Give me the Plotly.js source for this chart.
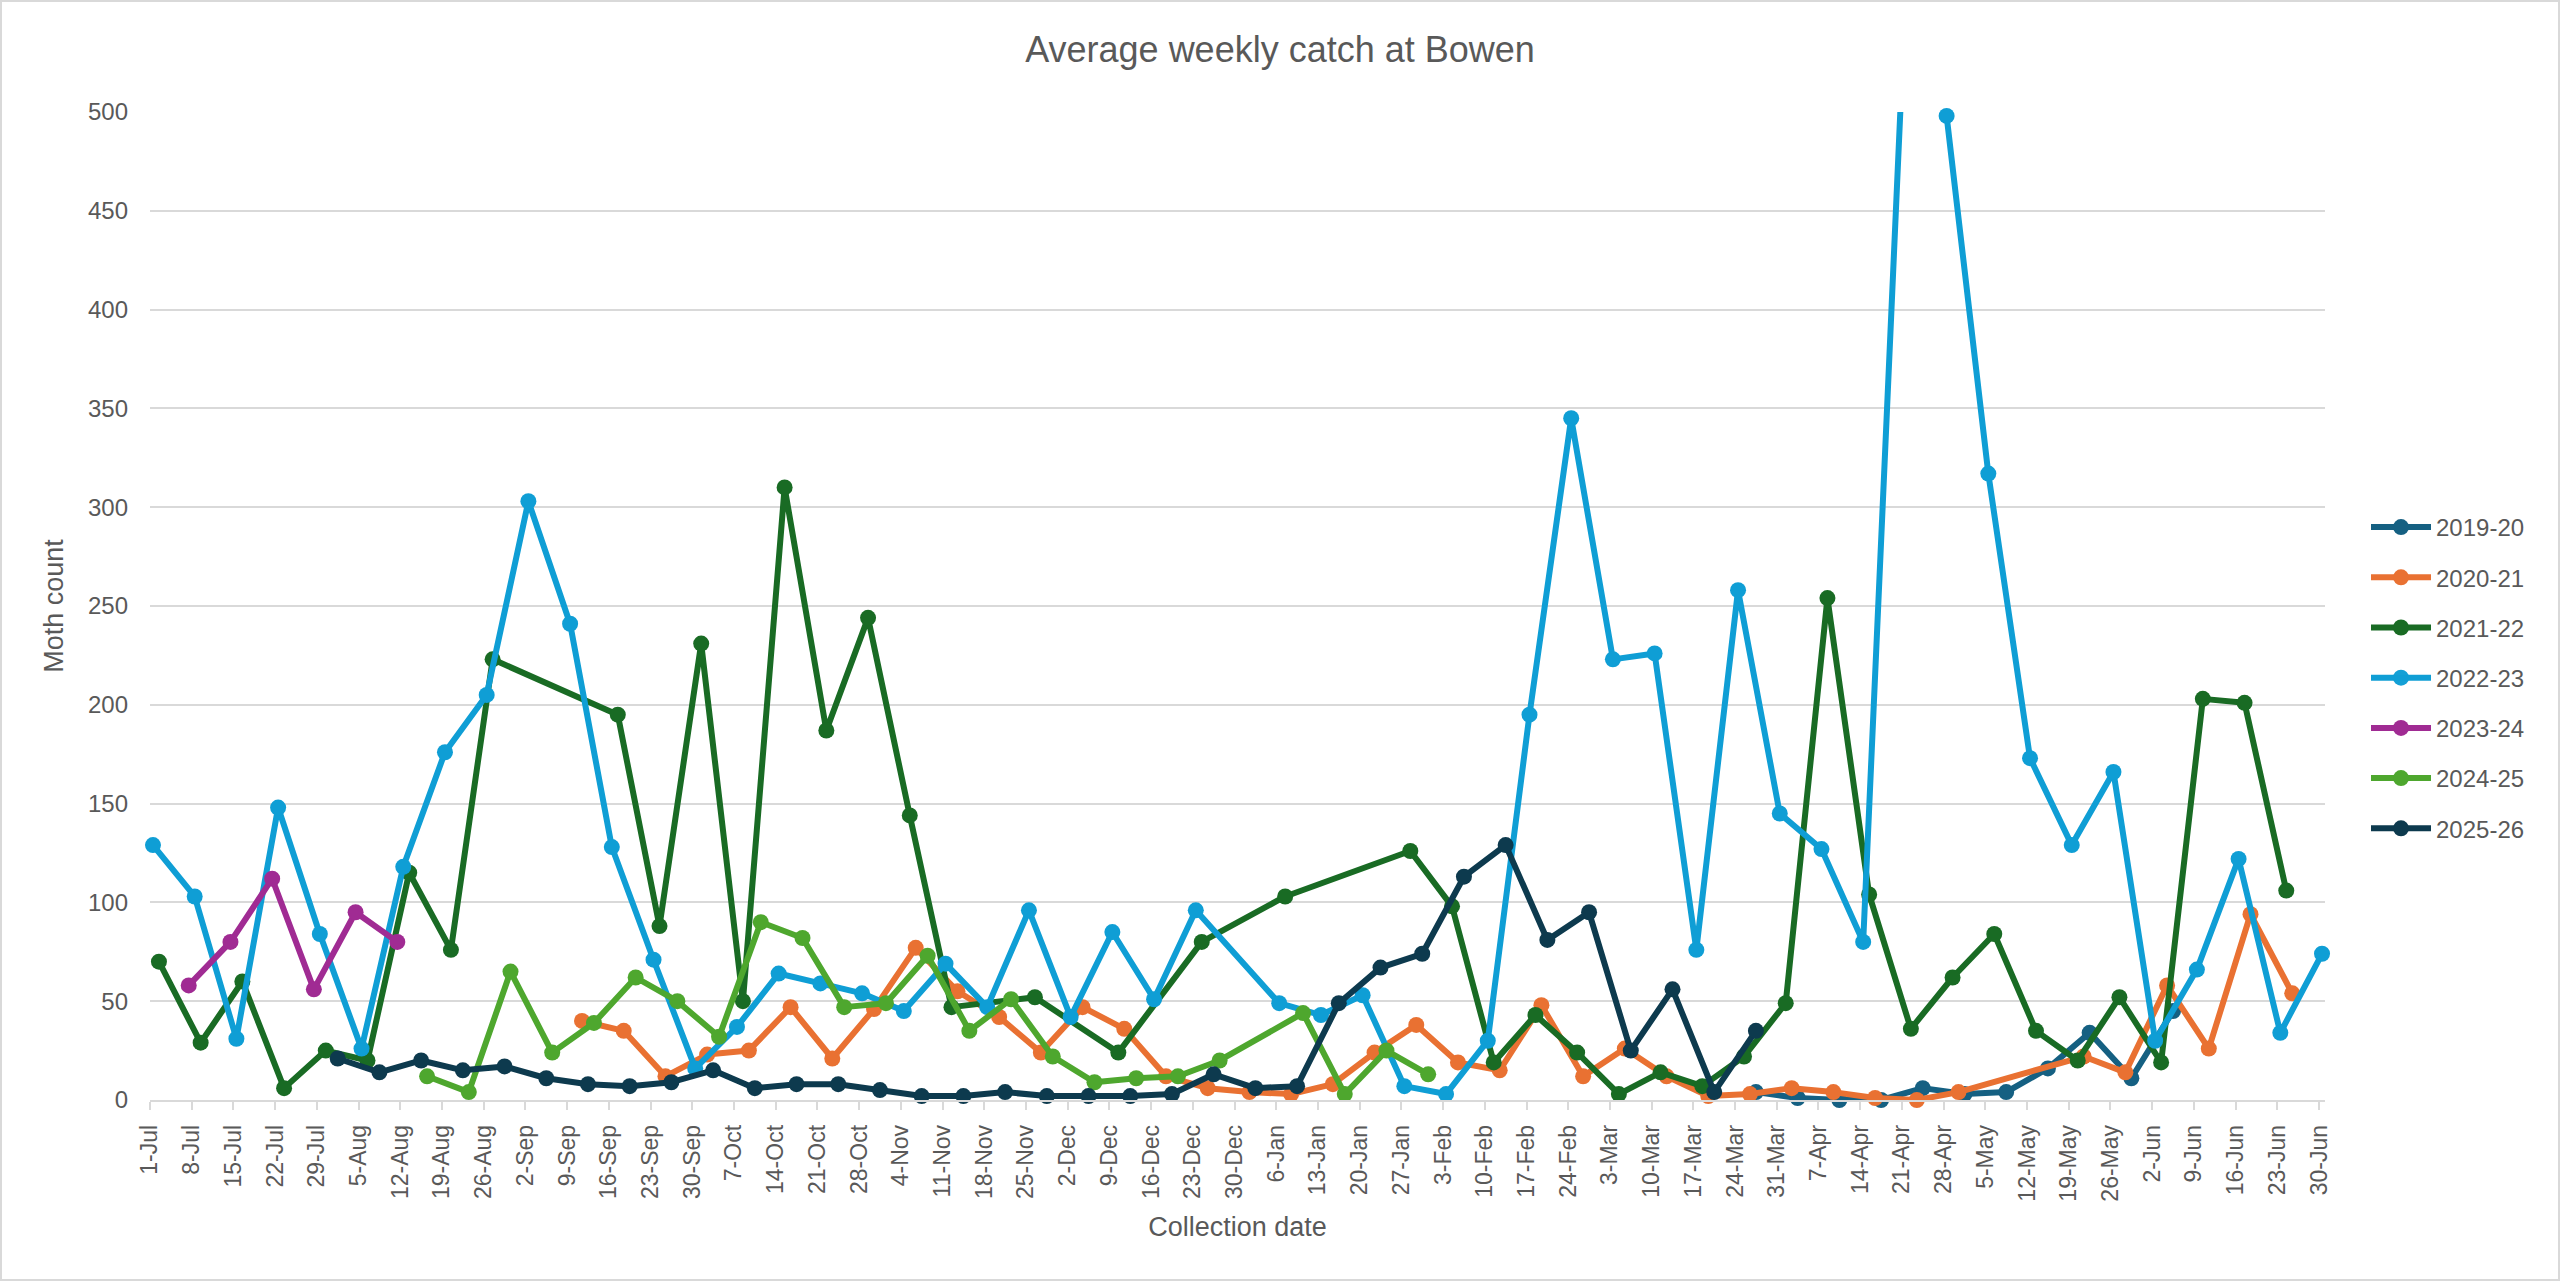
<!DOCTYPE html>
<html>
<head>
<meta charset="utf-8">
<script src="https://cdn.plot.ly/plotly-3.0.1.min.js"></script>
<style>
  html, body { margin: 0; padding: 0; background: #ffffff; }
  #chart { width: 2560px; height: 1281px; position: relative; }
  #frame { position: absolute; left: 0; top: 0; width: 2560px; height: 1281px;
           box-sizing: border-box; border: 2px solid #D9D9D9; pointer-events: none; }
  #chart .scatterlayer .js-line { stroke-linejoin: round; }
</style>
</head>
<body>
<div id="chart"></div>
<div id="frame"></div>
<script>
// ---------------- data ----------------
const seasonNames = ['2019-20', '2020-21', '2021-22', '2022-23', '2023-24', '2024-25', '2025-26'];

const dates2019 = ['27-Mar','3-Apr','10-Apr','17-Apr','24-Apr','1-May','8-May','15-May','22-May','29-May','5-Jun'];
const values2019 = [4, 1, 0, 0, 6, 3, 4, 16, 34, 11, 45];

const dates2020 = ['11-Sep','18-Sep','25-Sep','2-Oct','9-Oct','16-Oct','23-Oct','30-Oct','6-Nov','13-Nov',
  '20-Nov','27-Nov','4-Dec','11-Dec','18-Dec','25-Dec','1-Jan','8-Jan','15-Jan','22-Jan',
  '29-Jan','5-Feb','12-Feb','19-Feb','26-Feb','5-Mar','12-Mar','19-Mar','26-Mar','2-Apr',
  '9-Apr','16-Apr','23-Apr','30-Apr','21-May','28-May','4-Jun','11-Jun','18-Jun','25-Jun'];
const values2020 = [40, 35, 12, 23, 25, 47, 21, 46, 77, 55,
  42, 24, 47, 36, 12, 6, 4, 3, 8, 24,
  38, 19, 15, 48, 12, 26, 12, 2, 3, 6,
  4, 1, 0, 4, 22, 14, 58, 26, 94, 54];

const dates2021 = ['2-Jul','9-Jul','16-Jul','23-Jul','30-Jul','6-Aug','13-Aug','20-Aug','27-Aug','17-Sep',
  '24-Sep','1-Oct','8-Oct','15-Oct','22-Oct','29-Oct','5-Nov','12-Nov','26-Nov','10-Dec',
  '24-Dec','7-Jan','28-Jan','4-Feb','11-Feb','18-Feb','25-Feb','4-Mar','11-Mar','18-Mar',
  '25-Mar','1-Apr','8-Apr','15-Apr','22-Apr','29-Apr','6-May','13-May','20-May','27-May',
  '3-Jun','10-Jun','17-Jun','24-Jun'];
const values2021 = [70, 29, 60, 6, 25, 20, 115, 76, 223, 195,
  88, 231, 50, 310, 187, 244, 144, 47, 52, 24,
  80, 103, 126, 98, 19, 43, 24, 3, 14, 7,
  22, 49, 254, 104, 36, 62, 84, 35, 20, 52,
  19, 203, 201, 106];

const dates2022 = ['1-Jul','8-Jul','15-Jul','22-Jul','29-Jul','5-Aug','12-Aug','19-Aug','26-Aug','2-Sep',
  '9-Sep','16-Sep','23-Sep','30-Sep','7-Oct','14-Oct','21-Oct','28-Oct','4-Nov','11-Nov',
  '18-Nov','25-Nov','2-Dec','9-Dec','16-Dec','23-Dec','6-Jan','13-Jan','20-Jan','27-Jan',
  '3-Feb','10-Feb','17-Feb','24-Feb','3-Mar','10-Mar','17-Mar','24-Mar','31-Mar','7-Apr',
  '14-Apr','21-Apr','28-Apr','5-May','12-May','19-May','26-May','2-Jun','9-Jun','16-Jun',
  '23-Jun','30-Jun'];
const values2022 = [129, 103, 31, 148, 84, 26, 118, 176, 205, 303,
  241, 128, 71, 16, 37, 64, 59, 54, 45, 69,
  47, 96, 42, 85, 51, 96, 49, 43, 53, 7,
  3, 30, 195, 345, 223, 226, 76, 258, 145, 127,
  80, 552, 498, 317, 173, 129, 166, 30, 66, 122,
  34, 74];

const dates2023 = ['7-Jul','14-Jul','21-Jul','28-Jul','4-Aug','11-Aug'];
const values2023 = [58, 80, 112, 56, 95, 80];

const dates2024 = ['16-Aug','23-Aug','30-Aug','6-Sep','13-Sep','20-Sep','27-Sep','4-Oct','11-Oct','18-Oct',
  '25-Oct','1-Nov','8-Nov','15-Nov','22-Nov','29-Nov','6-Dec','13-Dec','20-Dec','27-Dec',
  '10-Jan','17-Jan','24-Jan','31-Jan'];
const values2024 = [12, 4, 65, 24, 39, 62, 50, 32, 90, 82,
  47, 49, 73, 35, 51, 22, 9, 11, 12, 20,
  44, 3, 25, 13];

const dates2025 = ['1-Aug','8-Aug','15-Aug','22-Aug','29-Aug','5-Sep','12-Sep','19-Sep','26-Sep','3-Oct',
  '10-Oct','17-Oct','24-Oct','31-Oct','7-Nov','14-Nov','21-Nov','28-Nov','5-Dec','12-Dec',
  '19-Dec','26-Dec','2-Jan','9-Jan','16-Jan','23-Jan','30-Jan','6-Feb','13-Feb','20-Feb',
  '27-Feb','6-Mar','13-Mar','20-Mar','27-Mar'];
const values2025 = [21, 14, 20, 15, 17, 11, 8, 7, 9, 15,
  6, 8, 8, 5, 2, 2, 4, 2, 2, 2,
  3, 13, 6, 7, 49, 67, 74, 113, 129, 81,
  95, 25, 56, 4, 35];

const seriesDates = [dates2019, dates2020, dates2021, dates2022, dates2023, dates2024, dates2025];
const seriesValues = [values2019, values2020, values2021, values2022, values2023, values2024, values2025];

// ---------------- styling ----------------
const seriesColors = ['#156082', '#E97132', '#196B24', '#0F9ED5', '#A02B93', '#4EA72E', '#0D3A4E'];
const textColor = '#595959';
const gridColor = '#D9D9D9';
const fontFamily = 'Liberation Sans, Arial, sans-serif';
const yMax = 500;

// Season runs 1-Jul .. 30-Jun; map onto one reference season (Excel date axis puts points mid-day).
const MONTHS = ['Jan','Feb','Mar','Apr','May','Jun','Jul','Aug','Sep','Oct','Nov','Dec'];
function toSeasonDate(s) {
  const parts = s.split('-');
  const day = parseInt(parts[0], 10);
  const m = MONTHS.indexOf(parts[1]) + 1;
  const yr = m >= 7 ? 2001 : 2002;
  const p = n => (n < 10 ? '0' : '') + n;
  return yr + '-' + p(m) + '-' + p(day) + ' 12:00';
}

const traces = seasonNames.map((name, i) => ({
  type: 'scatter',
  mode: 'lines+markers',
  name: name,
  legendgroup: name,
  x: seriesDates[i].map(toSeasonDate),
  y: seriesValues[i],
  line: { color: seriesColors[i], width: 6 },
  marker: {
    color: seriesColors[i],
    size: 16,
    opacity: seriesValues[i].map(v => (v > yMax ? 0 : 1))
  },
  cliponaxis: false,
  hoverinfo: 'x+y+name'
}));

const layout = {
  width: 2560,
  height: 1281,
  margin: { l: 150, r: 235, t: 112, b: 181 },
  paper_bgcolor: '#ffffff',
  plot_bgcolor: '#ffffff',
  font: { family: fontFamily, color: textColor },
  title: {
    text: 'Average weekly catch at Bowen',
    font: { size: 36, color: textColor, family: fontFamily },
    xref: 'container', x: 0.5, xanchor: 'center',
    yref: 'container', y: 1 - 49 / 1281, yanchor: 'middle'
  },
  xaxis: {
    type: 'date',
    range: ['2001-07-01', '2002-07-01'],
    tick0: '2001-07-01',
    dtick: 7 * 24 * 3600 * 1000,
    tickformat: '%-d-%b',
    tickangle: -90,
    ticks: 'outside',
    ticklen: 8,
    tickwidth: 1.5,
    tickcolor: gridColor,
    showline: true,
    linecolor: gridColor,
    linewidth: 1.5,
    showgrid: false,
    zeroline: false,
    tickfont: { size: 23, color: textColor, family: fontFamily },
    ticklabelstandoff: 6,
    title: { text: 'Collection date', font: { size: 27, color: textColor, family: fontFamily }, standoff: 16 }
  },
  yaxis: {
    range: [0, yMax],
    tick0: 0,
    dtick: 50,
    showgrid: true,
    gridcolor: gridColor,
    gridwidth: 1.5,
    zeroline: false,
    showline: false,
    ticks: '',
    tickfont: { size: 24, color: textColor, family: fontFamily },
    ticklabelstandoff: 21,
    title: { text: 'Moth count', font: { size: 27, color: textColor, family: fontFamily }, standoff: 16 }
  },
  showlegend: true,
  legend: {
    xref: 'container', yref: 'container',
    x: 2366 / 2560, xanchor: 'left',
    y: 1 - 505 / 1281, yanchor: 'top',
    traceorder: 'grouped',
    tracegroupgap: 16,
    itemwidth: 60,
    font: { size: 24, color: textColor, family: fontFamily },
    bgcolor: 'rgba(0,0,0,0)',
    borderwidth: 0
  },
  hovermode: 'closest'
};

Plotly.newPlot('chart', traces, layout, { displayModeBar: false, responsive: false });
</script>
</body>
</html>
